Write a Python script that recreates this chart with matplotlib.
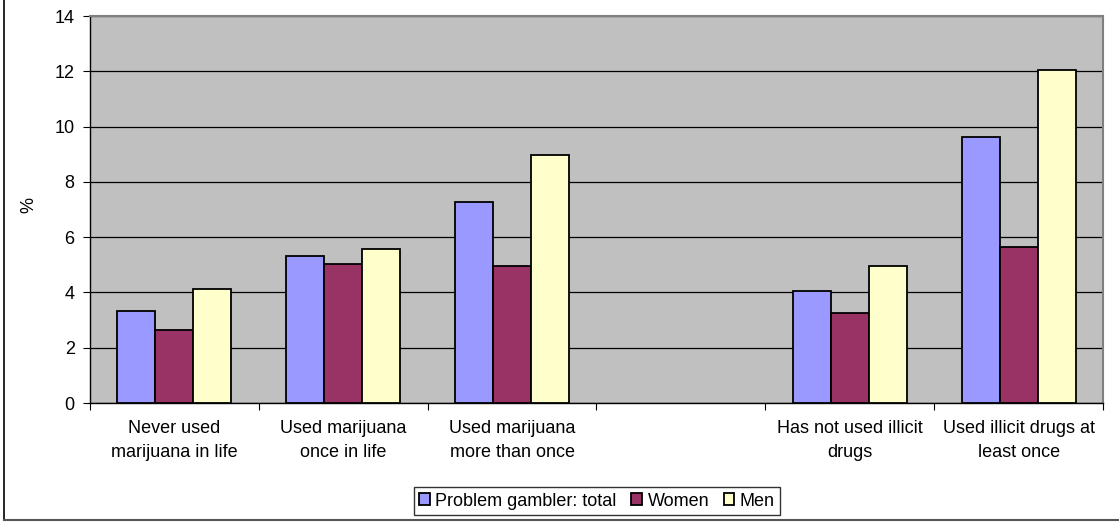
import matplotlib
matplotlib.use("Agg")
import matplotlib.pyplot as plt
import numpy as np
from matplotlib.patches import Patch
from matplotlib.lines import Line2D

categories = ["Never used\nmarijuana in life", "Used marijuana\nonce in life",
              "Used marijuana\nmore than once", "",
              "Has not used illicit\ndrugs", "Used illicit drugs at\nleast once"]
total = [3.32, 5.31, 7.27, np.nan, 4.06, 9.63]
women = [2.64, 5.04, 4.95, np.nan, 3.26, 5.65]
men = [4.13, 5.58, 8.97, np.nan, 4.96, 12.04]
series_names = ["Problem gambler: total", "Women", "Men"]
colors = ["#9999FF", "#993366", "#FFFFCC"]
yticks = [0, 2, 4, 6, 8, 10, 12, 14]

plt.rcParams['font.family'] = ['Liberation Sans', 'DejaVu Sans']
FS = 13

W, H = 1119, 523
fig = plt.figure(figsize=(W / 100, H / 100), dpi=100)
ax = fig.add_axes([90 / W, 1 - 403 / H, (1103 - 90) / W, (403 - 16) / H])
ax.set_facecolor("#C0C0C0")

n = len(categories)
x = np.arange(n)
bw = 0.225
for i, (vals, c) in enumerate(zip([total, women, men], colors)):
    ax.bar(x + (i - 1) * bw, vals, width=bw, color=c, edgecolor="black",
           linewidth=1.3, zorder=3, label=series_names[i])

ax.set_xlim(-0.5, n - 0.5)
ax.set_ylim(0, 14)
ax.set_yticks(yticks)
ax.yaxis.grid(True, color="black", linewidth=0.9, zorder=1)
ax.set_axisbelow(True)

ax.set_xticks(np.arange(-0.5, n, 1.0))
ax.set_xticklabels([])
ax.set_xticks(x, minor=True)
ax.set_xticklabels(categories, minor=True, fontsize=FS, linespacing=1.55)
ax.tick_params(axis="x", which="minor", length=0, pad=12)
ax.tick_params(axis="x", which="major", length=5, direction="out", color="black")
ax.tick_params(axis="y", length=5, direction="out", labelsize=FS, pad=6)

for s in ["top", "right"]:
    ax.spines[s].set_color("#808080")
    ax.spines[s].set_linewidth(1.5)
for s in ["left", "bottom"]:
    ax.spines[s].set_color("black")
    ax.spines[s].set_linewidth(1.0)

ax.set_ylabel("%", fontsize=FS)
ax.yaxis.set_label_coords((37 - 90) / (1103 - 90), (403 - 205) / (403 - 16))

handles = [Patch(facecolor=c, edgecolor="black", linewidth=1.3) for c in colors]
leg = fig.legend(handles, series_names, loc="center", bbox_to_anchor=(597 / W, 1 - 501 / H),
                 ncol=3, frameon=True, fancybox=False, fontsize=FS,
                 handlelength=0.6, handleheight=0.6, handletextpad=0.3,
                 columnspacing=0.8, borderpad=0.3, borderaxespad=0)
leg.get_frame().set_edgecolor("black")
leg.get_frame().set_linewidth(1.0)

fig.add_artist(Line2D([3.5 / W, 3.5 / W], [1 - 520 / H, 1.0], transform=fig.transFigure,
                      color="black", linewidth=1.2))
fig.add_artist(Line2D([3.5 / W, 1.0], [1 - 520 / H, 1 - 520 / H], transform=fig.transFigure,
                      color="#555555", linewidth=1.5))

fig.savefig("out.png", dpi=100)
